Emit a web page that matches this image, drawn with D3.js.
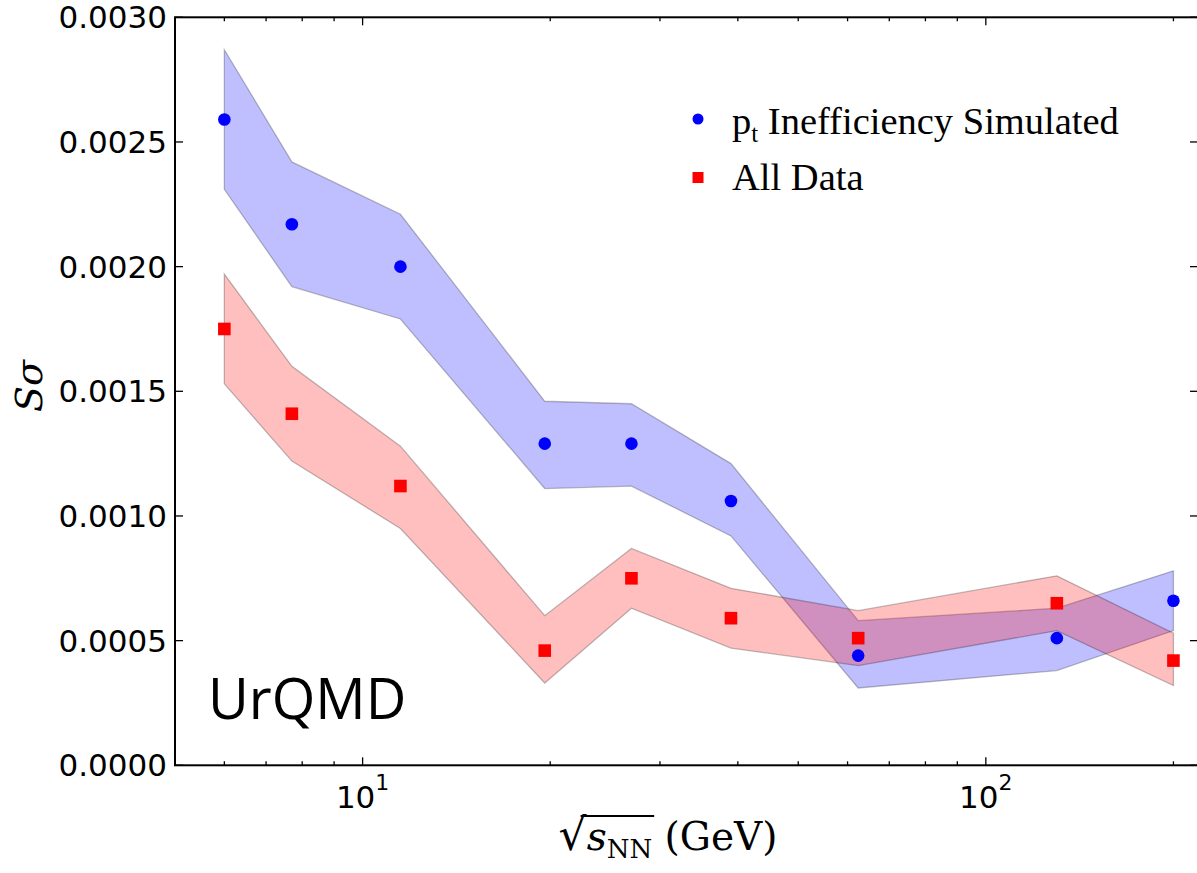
<!DOCTYPE html>
<html>
<head>
<meta charset="utf-8">
<script src="https://cdn.jsdelivr.net/npm/d3@7"></script>
<style>
  body { margin: 0; background: #fff; }
  svg { display: block; }
</style>
</head>
<body>
<svg id="chart" width="1197" height="873"></svg>
<script>
const width = 1197;
const height = 873;

// collision energies (GeV)
const energies = [6.0, 7.7, 11.5, 19.6, 27, 39, 62.4, 130, 200];

// pt inefficiency simulated
const blueVals = [0.00259, 0.00217, 0.00200, 0.00129, 0.00129, 0.00106, 0.00044, 0.00051, 0.00066];
const blueLo   = [0.00231, 0.00192, 0.00179, 0.00111, 0.00112, 0.00092, 0.00031, 0.00038, 0.00054];
const blueHi   = [0.00287, 0.00242, 0.00221, 0.00146, 0.00145, 0.00121, 0.00058, 0.00063, 0.00078];

// all data
const redVals = [0.00175, 0.00141, 0.00112, 0.00046, 0.00075, 0.00059, 0.00051, 0.00065, 0.00042];
const redLo   = [0.00153, 0.00122, 0.00095, 0.00033, 0.00063, 0.00047, 0.00040, 0.00054, 0.00032];
const redHi   = [0.00197, 0.00160, 0.00128, 0.00060, 0.00087, 0.00071, 0.00062, 0.00076, 0.00053];

const yTicks = [0, 0.0005, 0.0010, 0.0015, 0.0020, 0.0025, 0.0030];
const xMajor = [10, 100];
const xMinor = [6, 7, 8, 9, 20, 30, 40, 50, 60, 70, 80, 90, 200];

const plotLeft = 175, plotRight = 1198, plotTop = 17.3, plotBottom = 765.3;

const x = d3.scaleLog().domain([5, 219]).range([plotLeft, plotRight]);
const y = d3.scaleLinear().domain([0, 0.003]).range([plotBottom, plotTop]);

const svg = d3.select("#chart");

const blueRows = energies.map((e, i) => ({e, v: blueVals[i], lo: blueLo[i], hi: blueHi[i]}));
const redRows = energies.map((e, i) => ({e, v: redVals[i], lo: redLo[i], hi: redHi[i]}));

const area = d3.area()
    .x(d => x(d.e))
    .y0(d => y(d.lo))
    .y1(d => y(d.hi));

// bands (fill_between with alpha .25, black edge at same alpha)
svg.append("path")
    .datum(blueRows)
    .attr("d", area)
    .attr("fill", "rgb(0,0,255)")
    .attr("fill-opacity", 0.25)
    .attr("stroke", "#000")
    .attr("stroke-opacity", 0.25)
    .attr("stroke-width", 1.3);

svg.append("path")
    .datum(redRows)
    .attr("d", area)
    .attr("fill", "rgb(255,0,0)")
    .attr("fill-opacity", 0.25)
    .attr("stroke", "#000")
    .attr("stroke-opacity", 0.25)
    .attr("stroke-width", 1.3);

// markers
svg.selectAll(".blue-pt")
    .data(blueRows)
    .enter()
    .append("circle")
    .attr("class", "blue-pt")
    .attr("cx", d => x(d.e))
    .attr("cy", d => y(d.v))
    .attr("r", 6.3)
    .attr("fill", "#0000ff");

svg.selectAll(".red-pt")
    .data(redRows)
    .enter()
    .append("rect")
    .attr("class", "red-pt")
    .attr("x", d => x(d.e) - 6.3)
    .attr("y", d => y(d.v) - 6.3)
    .attr("width", 12.6)
    .attr("height", 12.6)
    .attr("fill", "#ff0000");

// frame
svg.append("rect")
    .attr("x", plotLeft)
    .attr("y", plotTop)
    .attr("width", plotRight - plotLeft)
    .attr("height", plotBottom - plotTop)
    .attr("fill", "none")
    .attr("stroke", "#000")
    .attr("stroke-width", 2);

const tickStyle = sel => sel.attr("stroke", "#000").attr("stroke-width", 1.3);

// y ticks, both sides, inward
yTicks.forEach(t => {
    svg.append("line").call(tickStyle)
        .attr("x1", plotLeft).attr("x2", plotLeft + 8)
        .attr("y1", y(t)).attr("y2", y(t));
    svg.append("line").call(tickStyle)
        .attr("x1", plotRight).attr("x2", plotRight - 8)
        .attr("y1", y(t)).attr("y2", y(t));
    svg.append("text")
        .attr("x", plotLeft - 8)
        .attr("y", y(t))
        .attr("dy", "0.36em")
        .attr("text-anchor", "end")
        .attr("font-family", "DejaVu Sans")
        .attr("font-size", 31)
        .text(d3.format(".4f")(t));
});

// x ticks, top and bottom, inward
xMajor.forEach(t => {
    svg.append("line").call(tickStyle)
        .attr("x1", x(t)).attr("x2", x(t))
        .attr("y1", plotBottom).attr("y2", plotBottom - 8);
    svg.append("line").call(tickStyle)
        .attr("x1", x(t)).attr("x2", x(t))
        .attr("y1", plotTop).attr("y2", plotTop + 8);
    const lbl = svg.append("text")
        .attr("x", x(t))
        .attr("y", 808)
        .attr("text-anchor", "middle")
        .attr("font-family", "DejaVu Sans")
        .attr("font-size", 31);
    lbl.append("tspan").text("10");
    lbl.append("tspan")
        .attr("dy", -18)
        .attr("font-size", 22)
        .text(Math.round(Math.log10(t)));
});
xMinor.forEach(t => {
    svg.append("line").call(tickStyle)
        .attr("x1", x(t)).attr("x2", x(t))
        .attr("y1", plotBottom).attr("y2", plotBottom - 4);
    svg.append("line").call(tickStyle)
        .attr("x1", x(t)).attr("x2", x(t))
        .attr("y1", plotTop).attr("y2", plotTop + 4);
});

// y label
svg.append("text")
    .attr("transform", "translate(42,386) rotate(-90)")
    .attr("text-anchor", "middle")
    .attr("font-family", "DejaVu Serif")
    .attr("font-style", "italic")
    .attr("font-size", 38)
    .text("Sσ");

// x label: sqrt(s_NN) (GeV)
const xl = svg.append("text")
    .attr("x", 668)
    .attr("y", 850)
    .attr("text-anchor", "middle")
    .attr("font-family", "DejaVu Serif")
    .attr("font-size", 39);
xl.append("tspan").attr("font-family", "DejaVu Sans").attr("font-size", 44).text("√");
xl.append("tspan").attr("font-style", "italic").text("s");
xl.append("tspan").attr("font-size", 26).attr("dy", 8).text("NN");
xl.append("tspan").attr("dy", -8).text(" (GeV)");
// overline of the radical
const xlNode = xl.node();
const sx0 = xlNode.getStartPositionOfChar(0).x + 22;
const sx1 = xlNode.getEndPositionOfChar(3).x + 2;
svg.append("line")
    .attr("x1", sx0).attr("x2", sx1)
    .attr("y1", 816).attr("y2", 816)
    .attr("stroke", "#000")
    .attr("stroke-width", 1.8);

// legend
const legend = svg.append("g").attr("transform", "translate(698,0)");
legend.append("circle").attr("cx", 0).attr("cy", 119).attr("r", 5.5).attr("fill", "#0000ff");
legend.append("rect").attr("x", -5.5).attr("y", 172).attr("width", 11).attr("height", 11).attr("fill", "#ff0000");
const l1 = legend.append("text")
    .attr("x", 34).attr("y", 134)
    .attr("font-family", "Liberation Serif")
    .attr("font-size", 38.5);
l1.append("tspan").text("p");
l1.append("tspan").attr("font-size", 25).attr("dy", 8).text("t");
l1.append("tspan").attr("dy", -8).text(" Inefficiency Simulated");
legend.append("text")
    .attr("x", 34).attr("y", 190)
    .attr("font-family", "Liberation Serif")
    .attr("font-size", 38.5)
    .text("All Data");

// model tag
svg.append("text")
    .attr("x", 208)
    .attr("y", 719)
    .attr("font-family", "Open Sans")
    .attr("font-size", 56)
    .text("UrQMD");
</script>
</body>
</html>
